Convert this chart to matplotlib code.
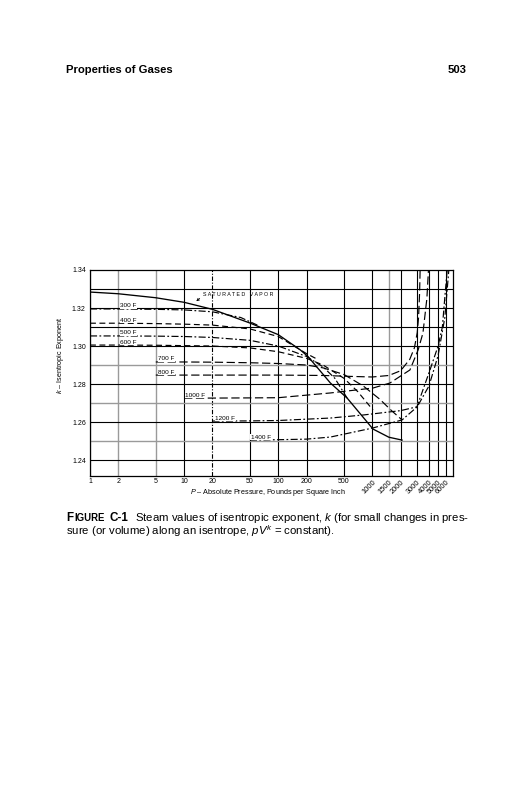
import matplotlib
matplotlib.use("Agg")
import matplotlib.pyplot as plt

plt.rcParams['font.family'] = ['Liberation Sans', 'DejaVu Sans']
plt.rcParams['mathtext.fontset'] = 'custom'
plt.rcParams['mathtext.rm'] = 'Liberation Sans'
plt.rcParams['mathtext.it'] = 'Liberation Sans:italic'

# ---------------- data (pressure psia, k) ----------------
sat_p = [1, 2, 5, 10, 20, 50, 100, 171, 207, 359, 540, 1017, 1500, 2070]
sat_k = [1.3284, 1.3275, 1.3254, 1.3230, 1.3193, 1.3121, 1.3060, 1.2980,
         1.2945, 1.2805, 1.2726, 1.2563, 1.2520, 1.2505]

t300_p = [1, 2, 5, 10, 20, 40, 60]
t300_k = [1.3195, 1.3195, 1.3193, 1.3190, 1.3180, 1.3150, 1.3110]

t400_p = [1, 2, 5, 10, 20, 50, 100, 200, 250]
t400_k = [1.3120, 1.3120, 1.3118, 1.3115, 1.3110, 1.3090, 1.3050, 1.2960, 1.2935]

t500_p = [1, 2, 5, 10, 20, 50, 100, 200, 300, 400, 540]
t500_k = [1.3053, 1.3053, 1.3052, 1.3050, 1.3045, 1.3030, 1.3000, 1.2945,
          1.2890, 1.2830, 1.2726]

t600_p = [1, 2, 5, 10, 20, 50, 100, 200, 300, 500, 700, 1017]
t600_k = [1.3005, 1.3005, 1.3004, 1.3002, 1.3000, 1.2990, 1.2970, 1.2935,
          1.2900, 1.2830, 1.2760, 1.2663]

t700_p = [5, 10, 20, 50, 100, 200, 300, 500, 800, 1200, 1600, 2070]
t700_k = [1.2916, 1.2916, 1.2915, 1.2912, 1.2908, 1.2900, 1.2885, 1.2850,
          1.2790, 1.2720, 1.2660, 1.2611]

t800_p = [5, 10, 20, 50, 100, 300, 600, 1000, 1500, 2000, 2500, 2800,
          3000, 3100, 3180, 3220]
t800_k = [1.2847, 1.2847, 1.2847, 1.2847, 1.2847, 1.2845, 1.2840, 1.2837,
          1.2845, 1.2870, 1.2930, 1.2990, 1.3070, 1.3150, 1.3280, 1.3400]

t1000_p = [10, 20, 50, 100, 359, 1017, 1535, 2510, 3070, 3450, 3800, 3950]
t1000_k = [1.2726, 1.2726, 1.2727, 1.2728, 1.2753, 1.2779, 1.2805, 1.2874,
           1.2980, 1.3068, 1.3250, 1.3400]

t1200_p = [20, 50, 100, 359, 800, 2000, 2980, 4100, 5000, 5550, 5950, 6250]
t1200_k = [1.2605, 1.2606, 1.2608, 1.2621, 1.2637, 1.2660, 1.2680, 1.2874,
           1.3000, 1.3100, 1.3280, 1.3400]

t1400_p = [50, 100, 200, 359, 1000, 2070, 3000, 4000, 5000, 5900, 6500]
t1400_k = [1.2505, 1.2507, 1.2510, 1.2521, 1.2568, 1.2611, 1.2680, 1.2790,
           1.2950, 1.3150, 1.3400]

iso_labels = ['300 F', '400 F', '500 F', '600 F', '700 F', '800 F',
              '1000 F', '1200 F', '1400 F']

x_ticks = [1, 2, 5, 10, 20, 50, 100, 200, 500, 1000, 1500, 2000, 3000,
           4000, 5000, 6000]
y_ticks = [1.24, 1.26, 1.28, 1.30, 1.32, 1.34]
y_grid = [1.24, 1.25, 1.26, 1.27, 1.28, 1.29, 1.30, 1.31, 1.32, 1.33]

# ---------------- figure ----------------
W, H = 531, 800
fig = plt.figure(figsize=(W / 100, H / 100), dpi=100)
fig.patch.set_facecolor('white')


def fx(px):
    return px / W


def fy(py):
    return 1 - py / H


ax = fig.add_axes([fx(90), fy(476), fx(453) - fx(90), fy(270) - fy(476)])
ax.set_xscale('log')
ax.set_xlim(1, 7200)
ax.set_ylim(1.2316, 1.34)

# grid
gray_v = [2, 5, 1500]
for xv in x_ticks:
    c = '#9a9a9a' if xv in gray_v else 'black'
    ls = (0, (4, 1.5, 1, 1.5)) if xv == 20 else '-'
    ax.axvline(xv, color=c, lw=0.8 if c == 'black' else 1.0, ls=ls, zorder=1)
gray_h = [1.27, 1.25, 1.29]
for yv in y_grid:
    c = '#9a9a9a' if yv in gray_h else 'black'
    ax.axhline(yv, color=c, lw=0.8 if c == 'black' else 1.0, zorder=1)

lw = 0.85
ax.plot(sat_p, sat_k, color='black', lw=0.95, zorder=3)
dashdot = (0, (6, 2, 1.5, 2))
dash = (0, (5, 3))
longdash = (0, (7, 3))
curves = [
    (t300_p, t300_k, dashdot),
    (t400_p, t400_k, dash),
    (t500_p, t500_k, dashdot),
    (t600_p, t600_k, dash),
    (t700_p, t700_k, longdash),
    (t800_p, t800_k, longdash),
    (t1000_p, t1000_k, longdash),
    (t1200_p, t1200_k, dashdot),
    (t1400_p, t1400_k, dashdot),
]
for p, k, ls in curves:
    ax.plot(p, k, color='black', lw=lw, ls=ls, zorder=3)

label_p = [2.1, 2.1, 2.1, 2.1, 5.3, 5.3, 10.3, 21.5, 51]
for (p, k, ls), lab, lp in zip(curves, iso_labels, label_p):
    ax.text(lp, k[0] + 0.0016, lab, fontsize=4.6, va='center', ha='left',
            bbox=dict(facecolor='white', edgecolor='none', pad=0.4), zorder=4)

ax.text(16.0, 1.3270, 'S A T U R A T E D   V A P O R', fontsize=3.8,
        va='center', ha='left', zorder=4)
ax.annotate('', xy=(12.8, 1.3226), xytext=(15.4, 1.3260),
            arrowprops=dict(arrowstyle='->', lw=0.6, color='black',
                            mutation_scale=4), zorder=4)

# ticks
ax.set_xticks(x_ticks)
ax.set_xticklabels([])
ax.minorticks_off()
ax.set_yticks(y_ticks)
ax.set_yticklabels(['%.2f' % v for v in y_ticks], fontsize=5.0)
ax.tick_params(length=0, pad=3)
for xv in x_ticks:
    s = str(xv)
    if xv < 1000:
        ax.text(xv, 1.2305, s, fontsize=5.0, ha='center', va='top')
    else:
        ax.text(xv, 1.2302, s, fontsize=5.4, ha='right', va='top',
                rotation=45, rotation_mode='anchor')
for sp in ax.spines.values():
    sp.set_linewidth(0.9)

fig.text(fx(268), fy(492), '$P$ \u2013 Absolute Pressure, Pounds per Square Inch',
         fontsize=5.2, ha='center', va='center')
fig.text(fx(61), fy(355), '$k$ \u2013 Isentropic Exponent', fontsize=5.2,
         ha='center', va='center', rotation=90)

# page text
fig.text(fx(66), fy(70), 'Properties of Gases', fontsize=8.1,
         fontweight='bold', ha='left', va='center')
fig.text(fx(466), fy(70), '503', fontsize=8.1, fontweight='bold',
         ha='right', va='center')

# caption: "FIGURE" in small caps, pieces chained left to right
fig.canvas.draw()
r = fig.canvas.get_renderer()
x0 = 66
tF = fig.text(fx(x0), fy(521), 'F', fontsize=8.4, fontweight='bold',
              ha='left', va='baseline')
x1 = tF.get_window_extent(r).x1 + 1
tI = fig.text(x1 / W, fy(521), 'IGURE', fontsize=6.9, fontweight='bold',
              ha='left', va='baseline')
x2 = tI.get_window_extent(r).x1
fig.text(x2 / W + fx(5), fy(521), 'C-1', fontsize=8.4, fontweight='bold',
         ha='left', va='baseline')
fig.text(fx(135), fy(521), 'Steam values of isentropic exponent, $k$ (for small changes in pres-',
         fontsize=8.2, ha='left', va='baseline')
fig.text(fx(66), fy(535), 'sure (or volume) along an isentrope, $pV^k$ = constant).',
         fontsize=8.2, ha='left', va='baseline')

fig.savefig('out.png', dpi=100)
